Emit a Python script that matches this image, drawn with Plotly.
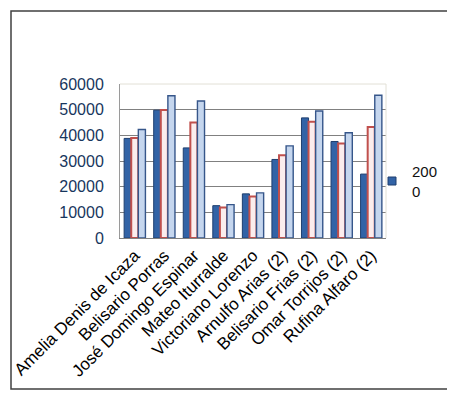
import plotly.graph_objects as go

categories = ["Amelia Denis de Icaza", "Belisario Porras", "José Domingo Espinar",
              "Mateo Iturralde", "Victoriano Lorenzo", "Arnulfo Arias (2)",
              "Belisario Frias (2)", "Omar Torrijos (2)", "Rufina Alfaro (2)"]
series_2000 = [38800, 49800, 35100, 12600, 17200, 30600, 46800, 37600, 24900]
series_b = [39000, 49900, 45000, 11900, 16200, 32200, 45300, 36800, 43200]
series_c = [42300, 55400, 53400, 13000, 17600, 35900, 49500, 41000, 55600]
y_ticks = [0, 10000, 20000, 30000, 40000, 50000, 60000]
y_tick_text = ["0", "10000", "20000", "30000", "40000", "50000", "60000"]
legend_label = "200<br>0"

fig = go.Figure()
fig.add_trace(go.Bar(x=categories, y=series_2000, name="2000", showlegend=False,
                     marker=dict(color="#3263A6", line=dict(color="#1F3F6F", width=1))))
fig.add_trace(go.Bar(x=categories, y=series_b, name="b", showlegend=False,
                     marker=dict(color="#FBEDED", line=dict(color="#C0504D", width=2))))
fig.add_trace(go.Bar(x=categories, y=series_c, name="c", showlegend=False,
                     marker=dict(color="#C5D6EE", line=dict(color="#36568A", width=1.4))))
# legend entry (small square marker like the original)
fig.add_trace(go.Scatter(x=[None], y=[None], mode="markers", name=legend_label,
                         marker=dict(symbol="square", size=8, color="#3263A6",
                                     line=dict(color="#1F3F6F", width=1))))

OFF = 8  # page body margin
L, R, T, B = 120 - OFF, 386 - OFF, 84 - OFF, 238 - OFF
W, H = 455 - OFF, 397 - OFF
pw, ph = R - L, B - T
def px(x): return (x - OFF - L) / pw
def py(y): return (B - (y - OFF)) / ph

fig.add_shape(type="rect", xref="paper", yref="paper",
              x0=px(11), x1=px(448), y0=py(389), y1=py(11),
              line=dict(color="#404040", width=1.5), fillcolor="rgba(0,0,0,0)")
fig.add_shape(type="line", xref="paper", yref="paper", x0=0, x1=1, y0=1, y1=1,
              line=dict(color="#E2E0D6", width=1))
fig.add_shape(type="line", xref="paper", yref="paper", x0=1, x1=1, y0=0, y1=1,
              line=dict(color="#E2E0D6", width=1))

fig.update_layout(
    width=W, height=H,
    margin=dict(l=L, r=W - R, t=T, b=H - B, pad=0, autoexpand=False),
    paper_bgcolor="white", plot_bgcolor="white",
    barmode="group", bargap=0.28, bargroupgap=0.0,
    font=dict(family="Liberation Sans, Arial, sans-serif"),
    showlegend=True,
    legend=dict(x=px(372), y=py(155), xanchor="left", yanchor="top",
                font=dict(size=15, color="#111111"), itemwidth=30,
                bgcolor="rgba(0,0,0,0)", tracegroupgap=0),
    xaxis=dict(tickangle=-45, tickfont=dict(size=17, color="#000000"),
               showline=True, linecolor="#808080", linewidth=1, ticks="",
               automargin=False),
    yaxis=dict(range=[0, 60000], tickvals=y_ticks, ticktext=y_tick_text,
               tickfont=dict(size=16, color="#17365D"),
               showgrid=True, gridcolor="#808080", gridwidth=1,
               showline=True, linecolor="#9A9A9A", linewidth=1,
               ticks="", ticklabelstandoff=12, zeroline=False, automargin=False),
)

fig.write_html("out.html")
